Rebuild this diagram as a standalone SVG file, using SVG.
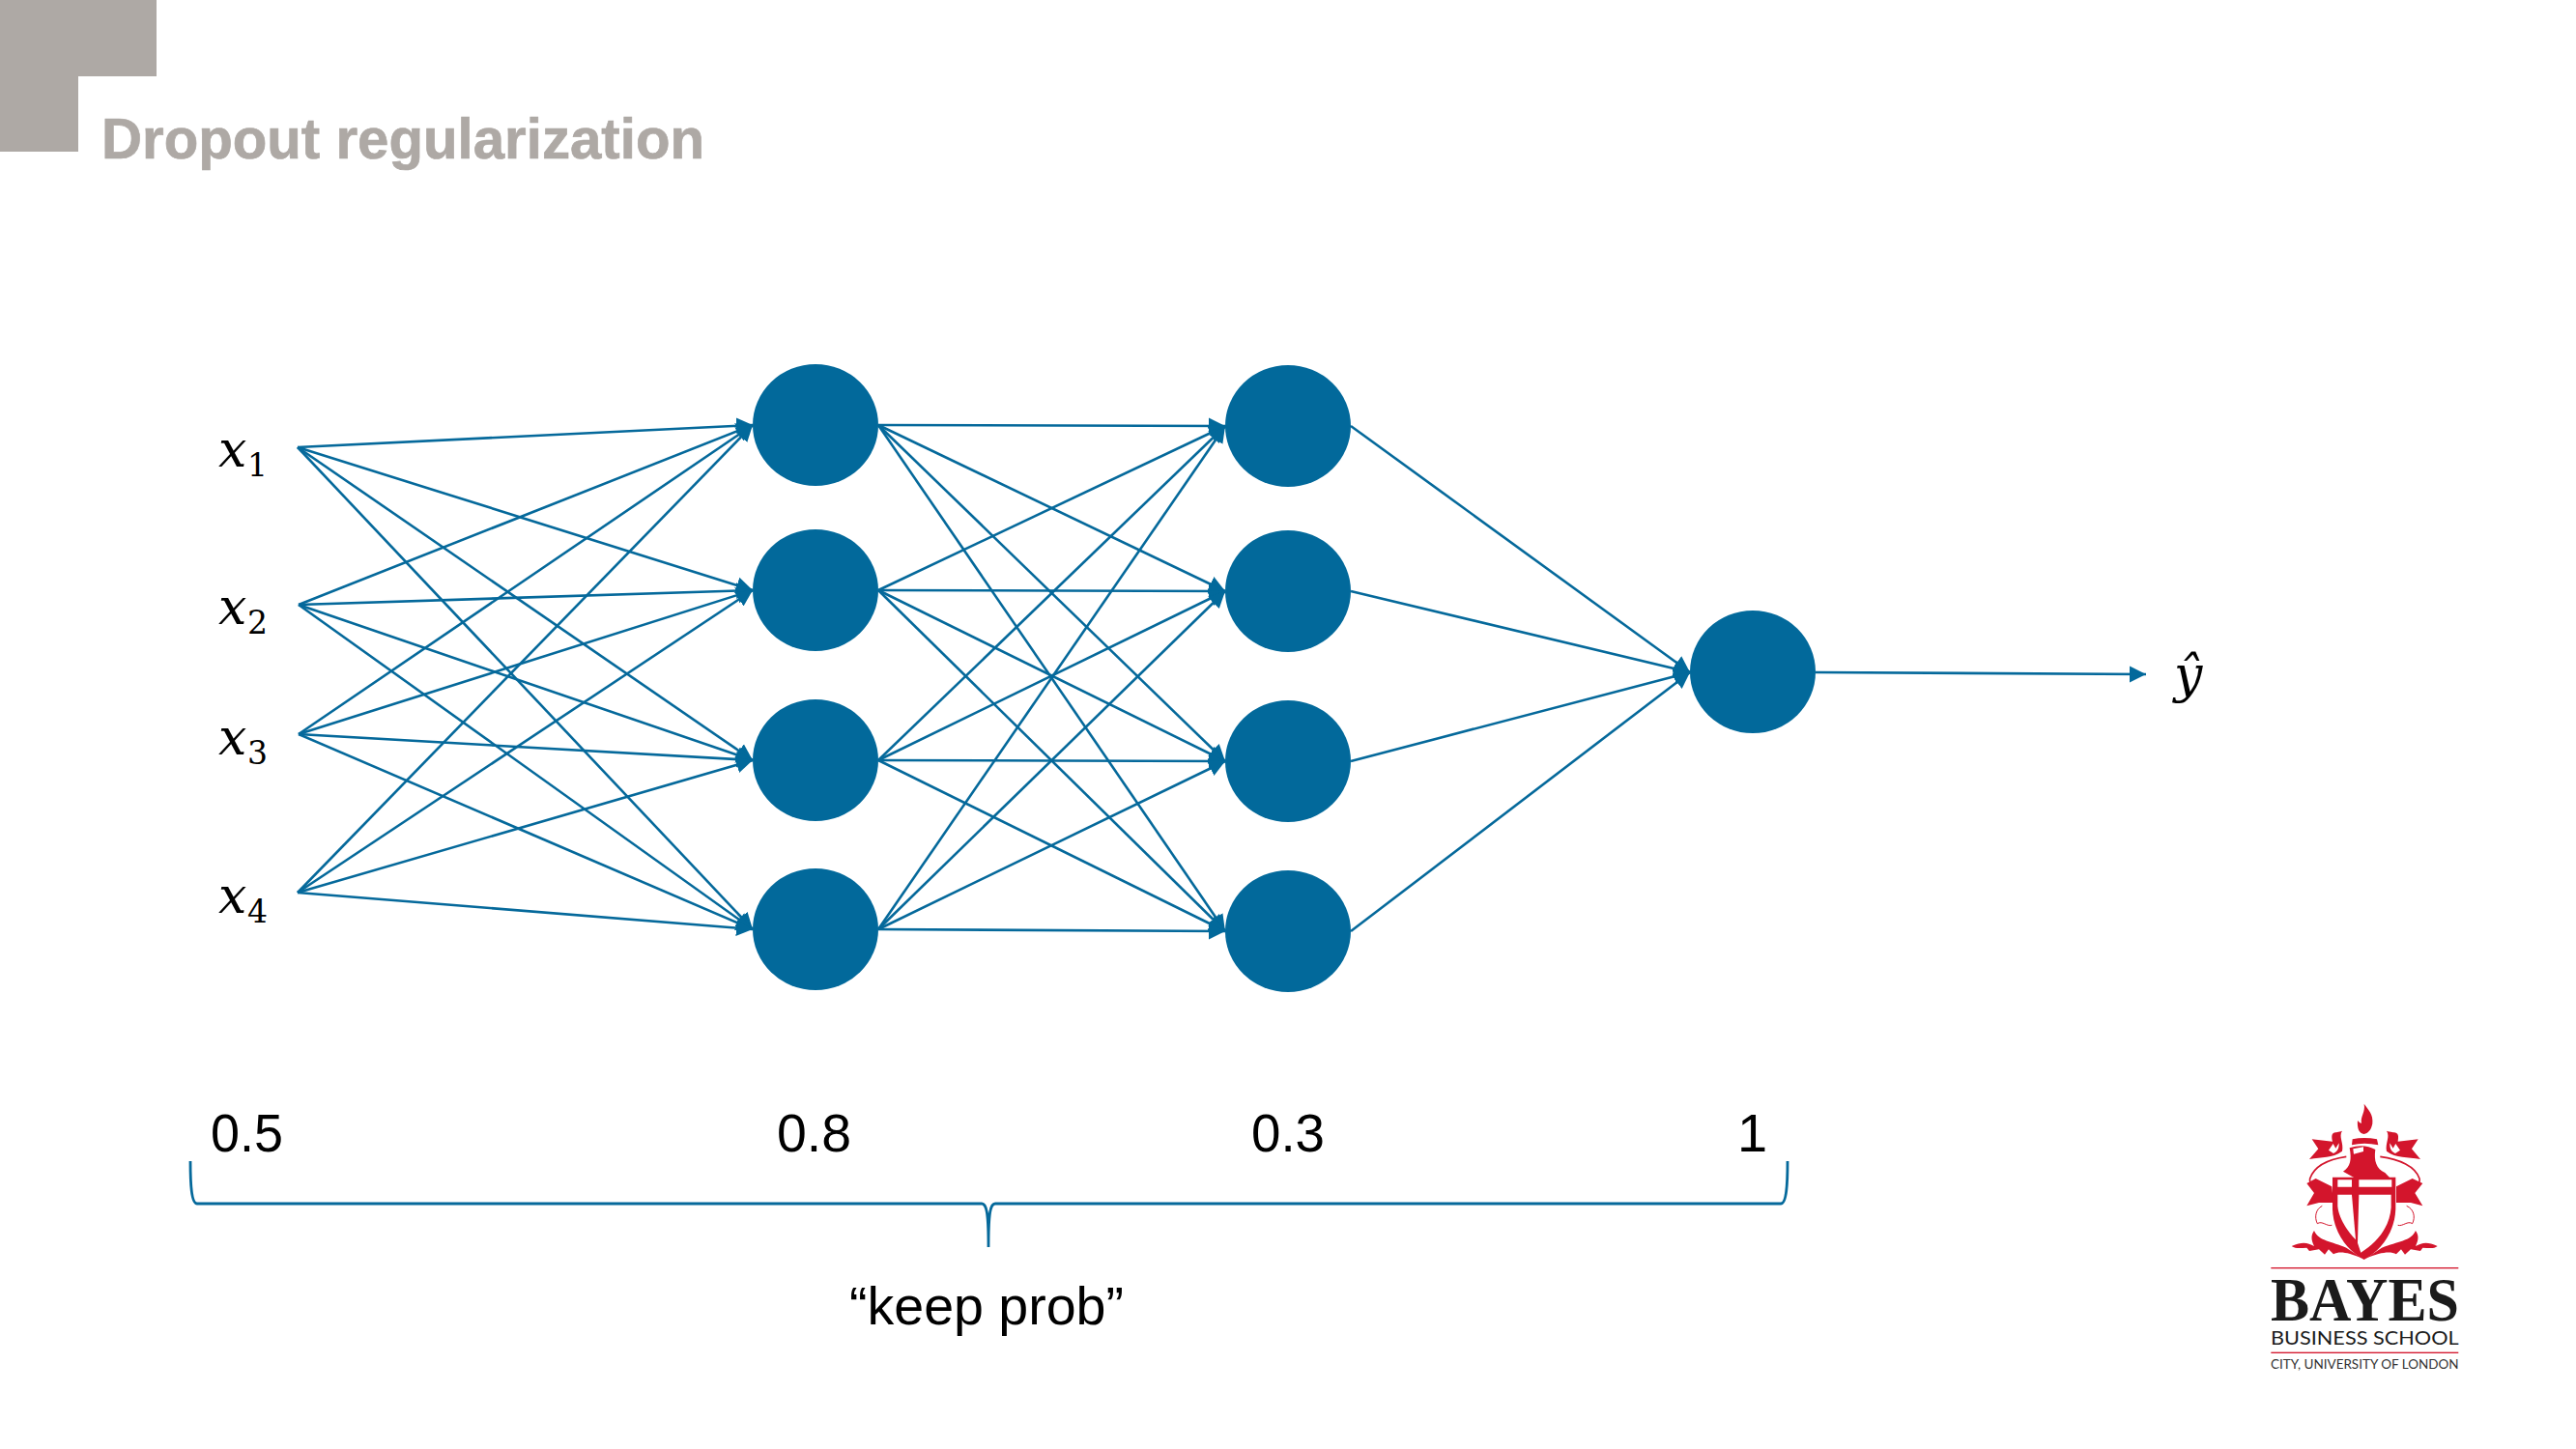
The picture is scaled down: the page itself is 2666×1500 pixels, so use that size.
<svg xmlns="http://www.w3.org/2000/svg" width="2666" height="1500" viewBox="0 0 2666 1500">
<style>
.e{stroke:#05699b;stroke-width:2.6;fill:none;marker-end:url(#ah)}
.n{fill:#02699b}
.num{font-family:"Liberation Sans",Arial,sans-serif;font-size:56px;fill:#000}
.mi{font-family:"DejaVu Serif","Liberation Serif",serif;font-style:italic;font-size:52px;fill:#000}
.sub{font-family:"DejaVu Serif","Liberation Serif",serif;font-style:normal;font-size:33px}
.r{fill:#d3152c}
.w{fill:#fff}
.rl{fill:none;stroke:#d3152c;stroke-width:5}
</style>
<defs>
<marker id="ah" markerUnits="userSpaceOnUse" markerWidth="20" markerHeight="20" refX="17" refY="9" orient="auto"><path d="M0,0.5 L17,9 L0,17.5 Z" fill="#02699b"/></marker>
</defs>
<rect width="2666" height="1500" fill="#fff"/>
<path id="corner" d="M0,0 H162 V79 H81 V157 H0 Z" fill="#aea9a5"/>
<text id="title" x="105" y="164" font-family="'Liberation Sans',Arial,sans-serif" font-weight="700" font-size="59" fill="#aea9a5" stroke="#aea9a5" stroke-width="0.7" textLength="624" lengthAdjust="spacingAndGlyphs">Dropout regularization</text>
<g id="connectors">
<line class="e" x1="308" y1="463" x2="779" y2="440"/><line class="e" x1="308" y1="463" x2="779" y2="611"/><line class="e" x1="308" y1="463" x2="779" y2="787"/><line class="e" x1="308" y1="463" x2="779" y2="962"/>
<line class="e" x1="309" y1="626" x2="779" y2="440"/><line class="e" x1="309" y1="626" x2="779" y2="611"/><line class="e" x1="309" y1="626" x2="779" y2="787"/><line class="e" x1="309" y1="626" x2="779" y2="962"/>
<line class="e" x1="309" y1="760" x2="779" y2="440"/><line class="e" x1="309" y1="760" x2="779" y2="611"/><line class="e" x1="309" y1="760" x2="779" y2="787"/><line class="e" x1="309" y1="760" x2="779" y2="962"/>
<line class="e" x1="308" y1="924" x2="779" y2="440"/><line class="e" x1="308" y1="924" x2="779" y2="611"/><line class="e" x1="308" y1="924" x2="779" y2="787"/><line class="e" x1="308" y1="924" x2="779" y2="962"/>
<line class="e" x1="909" y1="440" x2="1268" y2="441"/><line class="e" x1="909" y1="440" x2="1268" y2="612"/><line class="e" x1="909" y1="440" x2="1268" y2="788"/><line class="e" x1="909" y1="440" x2="1268" y2="964"/>
<line class="e" x1="909" y1="611" x2="1268" y2="441"/><line class="e" x1="909" y1="611" x2="1268" y2="612"/><line class="e" x1="909" y1="611" x2="1268" y2="788"/><line class="e" x1="909" y1="611" x2="1268" y2="964"/>
<line class="e" x1="909" y1="787" x2="1268" y2="441"/><line class="e" x1="909" y1="787" x2="1268" y2="612"/><line class="e" x1="909" y1="787" x2="1268" y2="788"/><line class="e" x1="909" y1="787" x2="1268" y2="964"/>
<line class="e" x1="909" y1="962" x2="1268" y2="441"/><line class="e" x1="909" y1="962" x2="1268" y2="612"/><line class="e" x1="909" y1="962" x2="1268" y2="788"/><line class="e" x1="909" y1="962" x2="1268" y2="964"/>
<line class="e" x1="1398" y1="441" x2="1749" y2="696"/><line class="e" x1="1398" y1="612" x2="1749" y2="696"/><line class="e" x1="1398" y1="788" x2="1749" y2="696"/><line class="e" x1="1398" y1="964" x2="1749" y2="696"/>
<line class="e" x1="1879" y1="696" x2="2221" y2="698"/>
</g>
<g id="h1a"><ellipse class="n" cx="844" cy="440" rx="65" ry="63"/></g>
<g id="h1b"><ellipse class="n" cx="844" cy="611" rx="65" ry="63"/></g>
<g id="h1c"><ellipse class="n" cx="844" cy="787" rx="65" ry="63"/></g>
<g id="h1d"><ellipse class="n" cx="844" cy="962" rx="65" ry="63"/></g>
<g id="h2a"><ellipse class="n" cx="1333" cy="441" rx="65" ry="63"/></g>
<g id="h2b"><ellipse class="n" cx="1333" cy="612" rx="65" ry="63"/></g>
<g id="h2c"><ellipse class="n" cx="1333" cy="788" rx="65" ry="63"/></g>
<g id="h2d"><ellipse class="n" cx="1333" cy="964" rx="65" ry="63"/></g>
<g id="out"><ellipse class="n" cx="1814" cy="695.5" rx="65" ry="63.5"/></g>
<g id="x1"><text class="mi" x="226" y="483">x<tspan class="sub" x="256" y="493">1</tspan></text></g>
<g id="x2"><text class="mi" x="226" y="646">x<tspan class="sub" x="256" y="656">2</tspan></text></g>
<g id="x3"><text class="mi" x="226" y="781">x<tspan class="sub" x="256" y="791">3</tspan></text></g>
<g id="x4"><text class="mi" x="226" y="945">x<tspan class="sub" x="256" y="955">4</tspan></text></g>
<g id="yhat"><text class="mi" x="2250" y="716">ŷ</text></g>
<text class="num" x="218" y="1192" textLength="75" lengthAdjust="spacingAndGlyphs">0.5</text>
<text class="num" x="804" y="1192" textLength="77" lengthAdjust="spacingAndGlyphs">0.8</text>
<text class="num" x="1295" y="1192" textLength="76" lengthAdjust="spacingAndGlyphs">0.3</text>
<text class="num" x="1798" y="1192">1</text>
<path id="brace" d="M197,1202 C197,1225 198,1246 204,1246 H1016 C1021,1246 1023,1255 1023,1291 C1023,1255 1025,1246 1030,1246 H1843 C1849,1246 1850,1225 1850,1202" fill="none" stroke="#05699b" stroke-width="2.8"/>
<text class="num" x="879" y="1371" textLength="284" lengthAdjust="spacingAndGlyphs">“keep prob”</text>
<g id="logo" transform="translate(2300,1120) scale(0.3333)">
<path class="r" d="M440,68 C452,85 470,100 466,130 C462,150 452,160 440,162 C425,160 418,145 420,120 C424,125 428,128 432,128 C428,105 445,95 440,68 Z"/>
<path class="r" d="M404,178 Q440,170 480,178 L484,196 Q440,186 402,196 Z"/>
<path class="r" d="M395,205 Q440,190 475,210 C470,245 478,270 505,282 L520,298 L410,298 L375,278 C398,265 402,240 395,205 Z"/>
<path class="w" d="M406,208 L438,202 L438,216 L408,224 Z"/>
<path class="r" d="M278,178 L342,185 C335,150 350,160 372,152 C360,170 378,190 372,215 C340,238 310,232 270,240 L298,208 Z"/>
<path class="w" d="M330,212 L344,192 L352,206 L362,190 C362,205 360,215 345,222 Z"/>
<path class="r" d="M608,178 L545,185 C552,150 535,160 510,152 C522,170 505,190 510,215 C540,238 575,232 615,240 L588,208 Z"/>
<path class="w" d="M552,212 L538,192 L530,206 L520,190 C520,205 522,215 537,222 Z"/>
<path class="rl" d="M385,232 C330,240 285,262 272,300 C268,318 285,335 335,345"/>
<path class="rl" d="M490,232 C550,240 600,262 612,300 C616,318 600,335 550,345"/>
<path class="r" d="M340,325 L290,300 L262,315 L285,345 L262,385 L300,375 L345,375 Z"/>
<path class="r" d="M540,325 L590,300 L622,315 L598,345 L622,385 L585,375 L540,375 Z"/>
<path class="rl" style="stroke-width:3" d="M310,385 C290,395 285,420 295,440 C310,430 325,450 340,445"/>
<path class="rl" style="stroke-width:3" d="M572,385 C595,395 600,420 590,440 C575,430 560,450 545,445"/>
<path class="r" d="M342,296 H538 L538,395 C535,470 490,525 440,552 C390,525 345,470 342,395 Z"/>
<path class="w" d="M358,304 H402 V326 H358 Z M424,304 H526 V326 H424 Z M424,350 H524 V390 C520,450 480,500 430,530 L420,500 Z"/>
<path class="w" d="M358,350 H402 L414,490 C385,460 360,420 358,385 Z"/>
<path class="r" d="M215,510 C250,495 265,500 285,510 C275,490 275,475 285,462 C300,495 340,495 385,515 L435,548 C390,530 365,525 345,535 L330,520 L318,536 L300,520 L270,525 L262,515 C245,515 230,520 215,510 Z"/>
<path class="r" d="M668,510 C635,495 620,500 600,510 C610,490 610,475 600,462 C585,495 545,495 495,515 L445,548 C490,530 520,525 540,535 L555,520 L567,536 L585,520 L615,525 L622,515 C640,515 655,520 668,510 Z"/>
<rect class="r" x="151" y="576" width="582" height="4"/>
<rect class="r" x="151" y="839" width="582" height="4"/>
<text x="150" y="740" font-family="'Liberation Serif','Times New Roman',serif" font-weight="700" font-size="190" fill="#1b1b1b" textLength="585" lengthAdjust="spacingAndGlyphs">BAYES</text>
<text x="150" y="815" font-family="Lato,'Liberation Sans',sans-serif" font-size="60" fill="#1b1b1b" textLength="584" lengthAdjust="spacingAndGlyphs">BUSINESS SCHOOL</text>
<text x="150" y="892" font-family="Lato,'Liberation Sans',sans-serif" font-size="38" fill="#333" textLength="584" lengthAdjust="spacingAndGlyphs">CITY, UNIVERSITY OF LONDON</text>
</g>
</svg>
